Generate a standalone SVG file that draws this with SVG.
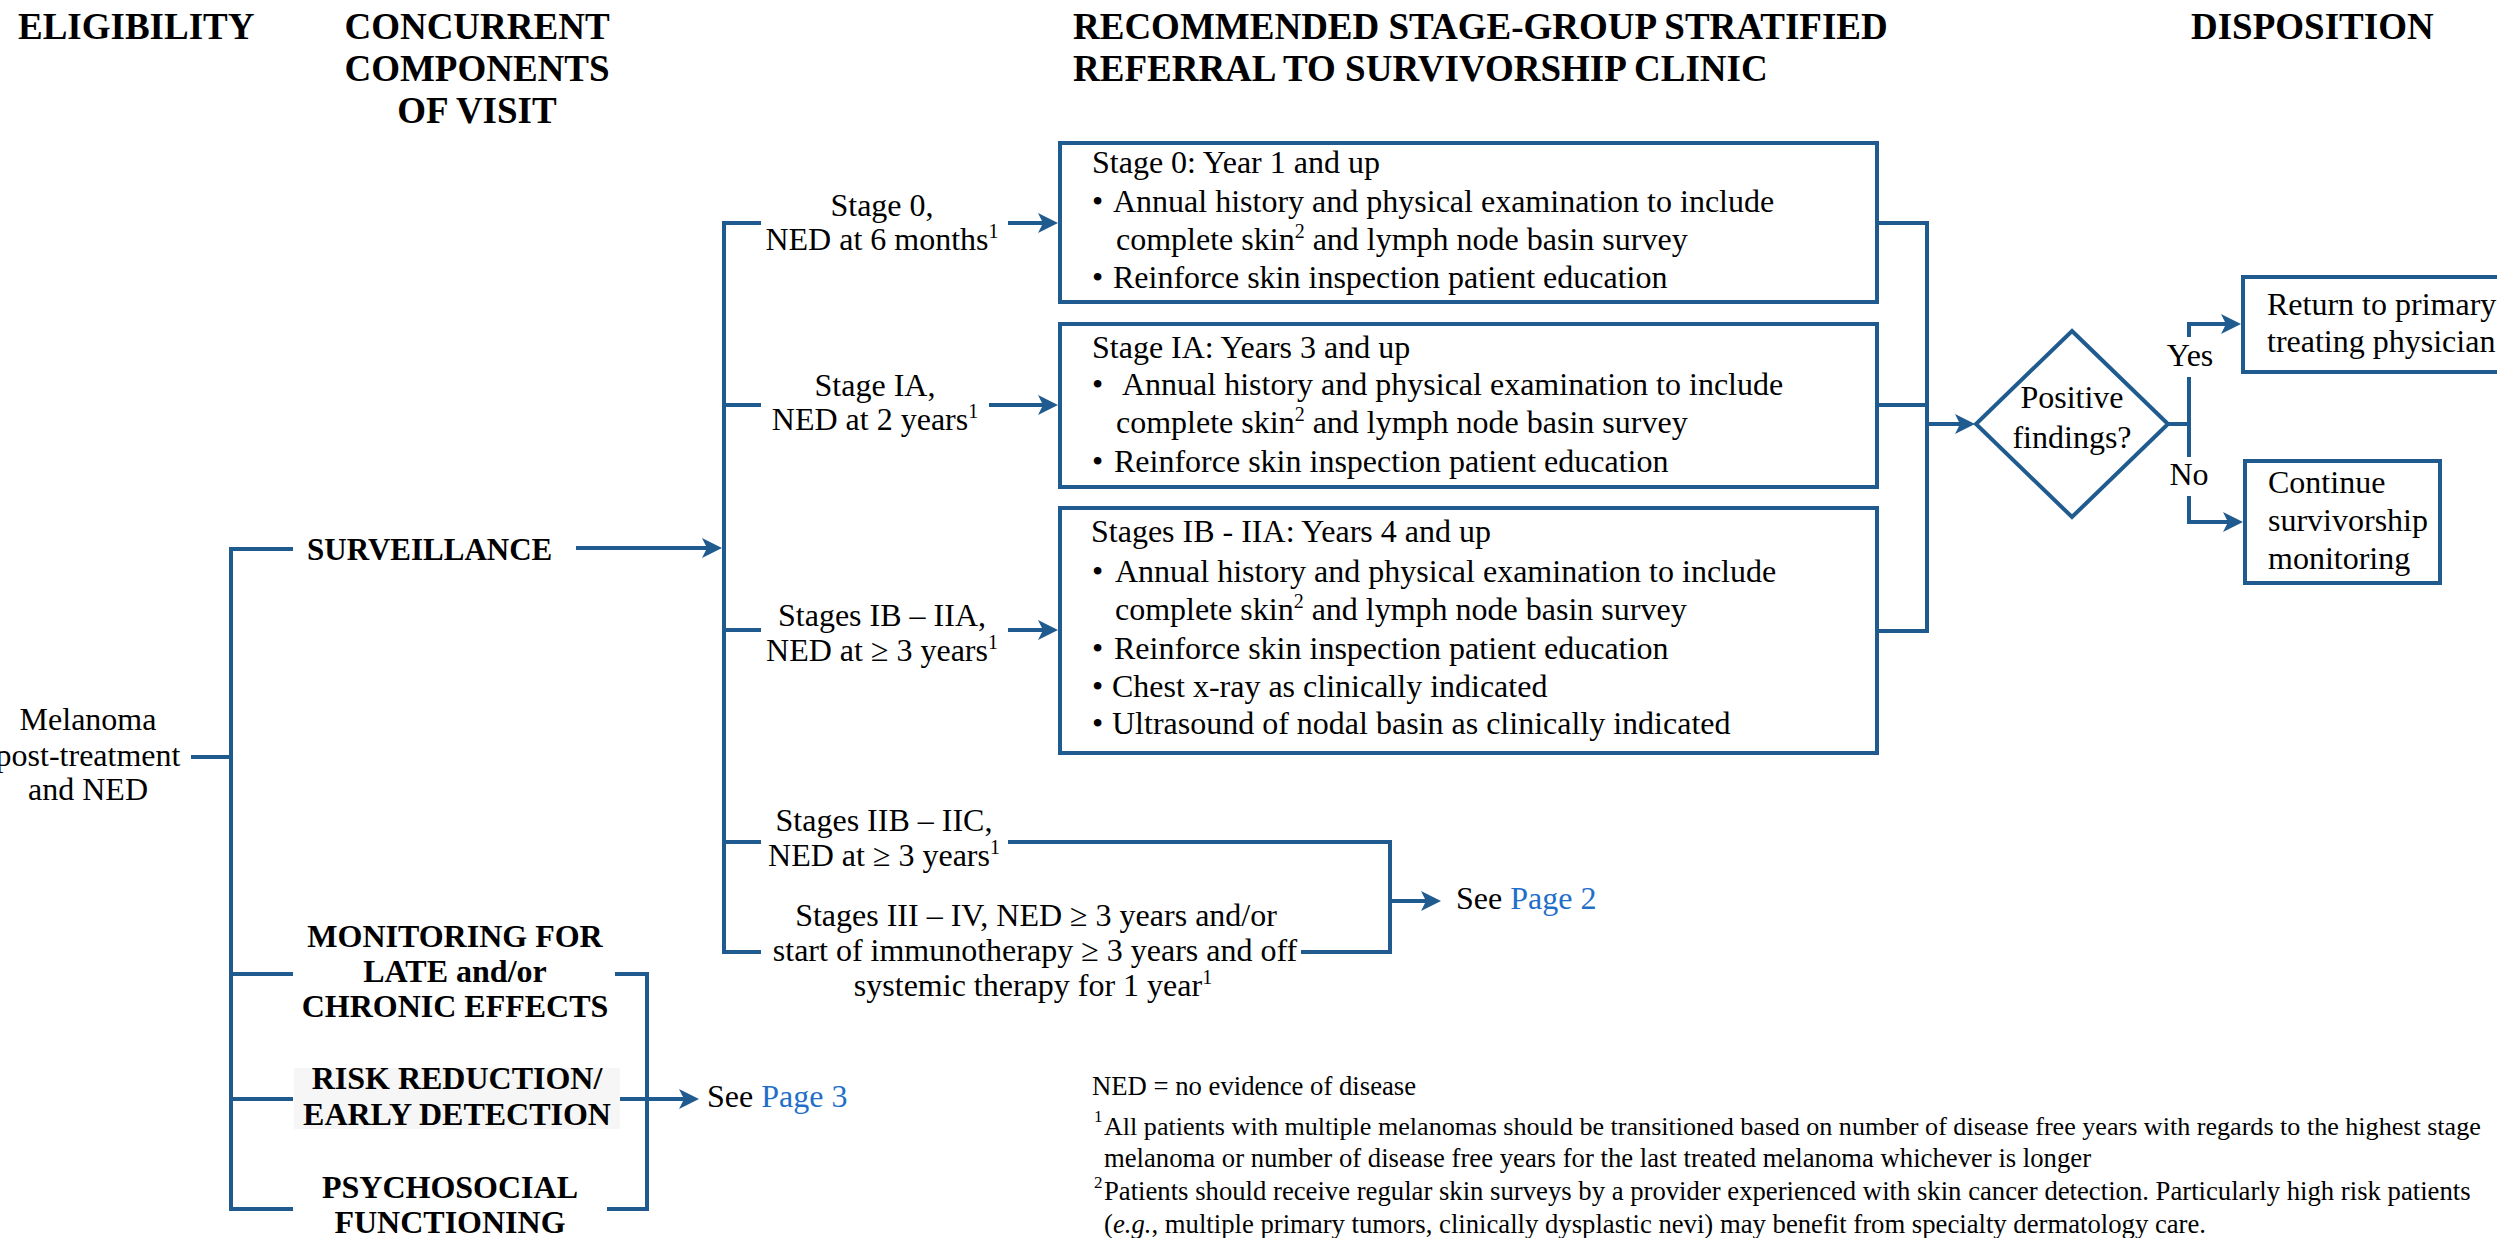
<svg xmlns="http://www.w3.org/2000/svg" width="2497" height="1238" viewBox="0 0 2497 1238">
<style>
.ln{stroke:#1f5b8e;stroke-width:4;fill:none}
.box{stroke:#1f5b8e;stroke-width:4;fill:#fff}
.t{font-family:"Liberation Serif","Times New Roman",serif;font-size:32px;fill:#000}
.h{font-weight:bold;font-size:37px}
.b{font-weight:bold}
.m{text-anchor:middle}
.fn{font-size:26.7px}
.lnk{fill:#1f6fc9}
.sup{font-size:20px}
.fsup{font-size:17px}
</style>
<defs>
<marker id="ah" markerUnits="userSpaceOnUse" markerWidth="20" markerHeight="20" refX="6" refY="10" orient="auto"><path d="M0,0 L20,10 L0,20 L5,10 Z" fill="#1f5b8e"/></marker>
</defs>
<rect width="2497" height="1238" fill="#fff"/>

<g id="headers" class="t h">
<text x="18" y="39">ELIGIBILITY</text>
<text class="m" x="477" y="39">CONCURRENT</text>
<text class="m" x="477" y="81">COMPONENTS</text>
<text class="m" x="477" y="123">OF VISIT</text>
<text x="1073" y="39">RECOMMENDED STAGE-GROUP STRATIFIED</text>
<text x="1073" y="81">REFERRAL TO SURVIVORSHIP CLINIC</text>
<text x="2191" y="39">DISPOSITION</text>
</g>

<g id="connectors">
<path class="ln" d="M191,757 H231"/>
<path class="ln" d="M293,549 H231 V1209 H293"/>
<path class="ln" d="M231,974 H293 M231,1099 H293"/>
<path class="ln" d="M576,548 H708" marker-end="url(#ah)"/>
<path class="ln" d="M761,223 H724 V952 H761"/>
<path class="ln" d="M724,405 H761 M724,630 H761 M724,842 H761"/>
<path class="ln" d="M1008,223 H1044" marker-end="url(#ah)"/>
<path class="ln" d="M989,405 H1044" marker-end="url(#ah)"/>
<path class="ln" d="M1008,630 H1044" marker-end="url(#ah)"/>
<path class="ln" d="M1877,223 H1927 V631 H1877 M1877,405 H1927"/>
<path class="ln" d="M1927,424 H1961" marker-end="url(#ah)"/>
<path class="ln" d="M2168,424 H2189"/>
<path class="ln" d="M2189,377 V457"/>
<path class="ln" d="M2189,337 V324 H2227" marker-end="url(#ah)"/>
<path class="ln" d="M2189,496 V522 H2229" marker-end="url(#ah)"/>
<path class="ln" d="M1008,842 H1390 V952 H1301"/>
<path class="ln" d="M1390,901 H1427" marker-end="url(#ah)"/>
<path class="ln" d="M615,974 H647 V1209 H607"/>
<path class="ln" d="M620,1099 H685" marker-end="url(#ah)"/>
</g>

<g id="melanoma" class="t m">
<text x="88" y="730">Melanoma</text>
<text x="88" y="766">post-treatment</text>
<text x="88" y="800">and NED</text>
</g>

<g id="surveillance" class="t b"><text x="307" y="560" style="font-size:31px">SURVEILLANCE</text></g>

<g id="monitoring" class="t b m">
<text x="455" y="947">MONITORING FOR</text>
<text x="455" y="982">LATE and/or</text>
<text x="455" y="1017">CHRONIC EFFECTS</text>
</g>

<g id="risk">
<rect x="294" y="1068" width="326" height="61" fill="#f6f6f6"/>
<g class="t b m">
<text x="457" y="1089">RISK REDUCTION/</text>
<text x="457" y="1125">EARLY DETECTION</text>
</g>
</g>

<g id="psychosocial" class="t b m">
<text x="450" y="1198">PSYCHOSOCIAL</text>
<text x="450" y="1233">FUNCTIONING</text>
</g>

<g id="see-page3" class="t"><text x="707" y="1107">See <tspan class="lnk">Page 3</tspan></text></g>

<g id="label-stage0" class="t m">
<text x="882" y="216">Stage 0,</text>
<text x="882" y="250">NED at 6 months<tspan class="sup" dy="-12">1</tspan></text>
</g>
<g id="label-stageIA" class="t m">
<text x="875" y="396">Stage IA,</text>
<text x="875" y="430">NED at 2 years<tspan class="sup" dy="-12">1</tspan></text>
</g>
<g id="label-stageIB" class="t m">
<text x="882" y="626">Stages IB – IIA,</text>
<text x="882" y="661">NED at ≥ 3 years<tspan class="sup" dy="-12">1</tspan></text>
</g>
<g id="label-stageIIB" class="t m">
<text x="884" y="831">Stages IIB – IIC,</text>
<text x="884" y="866">NED at ≥ 3 years<tspan class="sup" dy="-12">1</tspan></text>
</g>
<g id="label-stageIII" class="t m">
<text x="1036" y="926">Stages III – IV, NED ≥ 3 years and/or</text>
<text x="1035" y="961">start of immunotherapy ≥ 3 years and off</text>
<text x="1033" y="996">systemic therapy for 1 year<tspan class="sup" dy="-12">1</tspan></text>
</g>

<g id="see-page2" class="t"><text x="1456" y="909">See <tspan class="lnk">Page 2</tspan></text></g>

<g id="box-stage0">
<rect class="box" x="1060" y="143" width="817" height="159"/>
<g class="t">
<text x="1092" y="173">Stage 0: Year 1 and up</text>
<text y="212"><tspan x="1092">•</tspan><tspan x="1113">Annual history and physical examination to include</tspan></text>
<text x="1116" y="250">complete skin<tspan class="sup" dy="-12">2</tspan><tspan dy="12"> and lymph node basin survey</tspan></text>
<text y="288"><tspan x="1092">•</tspan><tspan x="1113">Reinforce skin inspection patient education</tspan></text>
</g>
</g>

<g id="box-stageIA">
<rect class="box" x="1060" y="324" width="817" height="163"/>
<g class="t">
<text x="1092" y="358">Stage IA: Years 3 and up</text>
<text y="395"><tspan x="1092">•</tspan><tspan x="1122">Annual history and physical examination to include</tspan></text>
<text x="1116" y="433">complete skin<tspan class="sup" dy="-12">2</tspan><tspan dy="12"> and lymph node basin survey</tspan></text>
<text y="472"><tspan x="1092">•</tspan><tspan x="1114">Reinforce skin inspection patient education</tspan></text>
</g>
</g>

<g id="box-stageIB">
<rect class="box" x="1060" y="508" width="817" height="245"/>
<g class="t">
<text x="1091" y="542">Stages IB - IIA: Years 4 and up</text>
<text y="582"><tspan x="1092">•</tspan><tspan x="1115">Annual history and physical examination to include</tspan></text>
<text x="1115" y="620">complete skin<tspan class="sup" dy="-12">2</tspan><tspan dy="12"> and lymph node basin survey</tspan></text>
<text y="659"><tspan x="1092">•</tspan><tspan x="1114">Reinforce skin inspection patient education</tspan></text>
<text y="697"><tspan x="1092">•</tspan><tspan x="1112">Chest x-ray as clinically indicated</tspan></text>
<text y="734"><tspan x="1092">•</tspan><tspan x="1112">Ultrasound of nodal basin as clinically indicated</tspan></text>
</g>
</g>

<g id="decision">
<polygon class="box" points="2072,331 2168,424 2072,517 1976,424"/>
<g class="t m">
<text x="2072" y="408">Positive</text>
<text x="2072" y="448">findings?</text>
</g>
</g>

<g id="branch-labels" class="t m">
<text x="2190" y="366">Yes</text>
<text x="2189" y="485">No</text>
</g>

<g id="box-return">
<rect class="box" x="2243" y="277" width="300" height="95"/>
<g class="t">
<text x="2267" y="315">Return to primary</text>
<text x="2267" y="352">treating physician</text>
</g>
</g>

<g id="box-continue">
<rect class="box" x="2245" y="461" width="195" height="122"/>
<g class="t">
<text x="2268" y="493">Continue</text>
<text x="2268" y="531">survivorship</text>
<text x="2268" y="569">monitoring</text>
</g>
</g>

<g id="footnotes" class="t fn">
<text x="1092" y="1095">NED = no evidence of disease</text>
<text x="1094" y="1122" class="fsup">1</text>
<text x="1104" y="1135" style="font-size:26.1px">All patients with multiple melanomas should be transitioned based on number of disease free years with regards to the highest stage</text>
<text x="1104" y="1167">melanoma or number of disease free years for the last treated melanoma whichever is longer</text>
<text x="1094" y="1188" class="fsup">2</text>
<text x="1104" y="1200">Patients should receive regular skin surveys by a provider experienced with skin cancer detection. Particularly high risk patients</text>
<text x="1104" y="1233">(<tspan font-style="italic">e.g.</tspan>, multiple primary tumors, clinically dysplastic nevi) may benefit from specialty dermatology care.</text>
</g>
</svg>
